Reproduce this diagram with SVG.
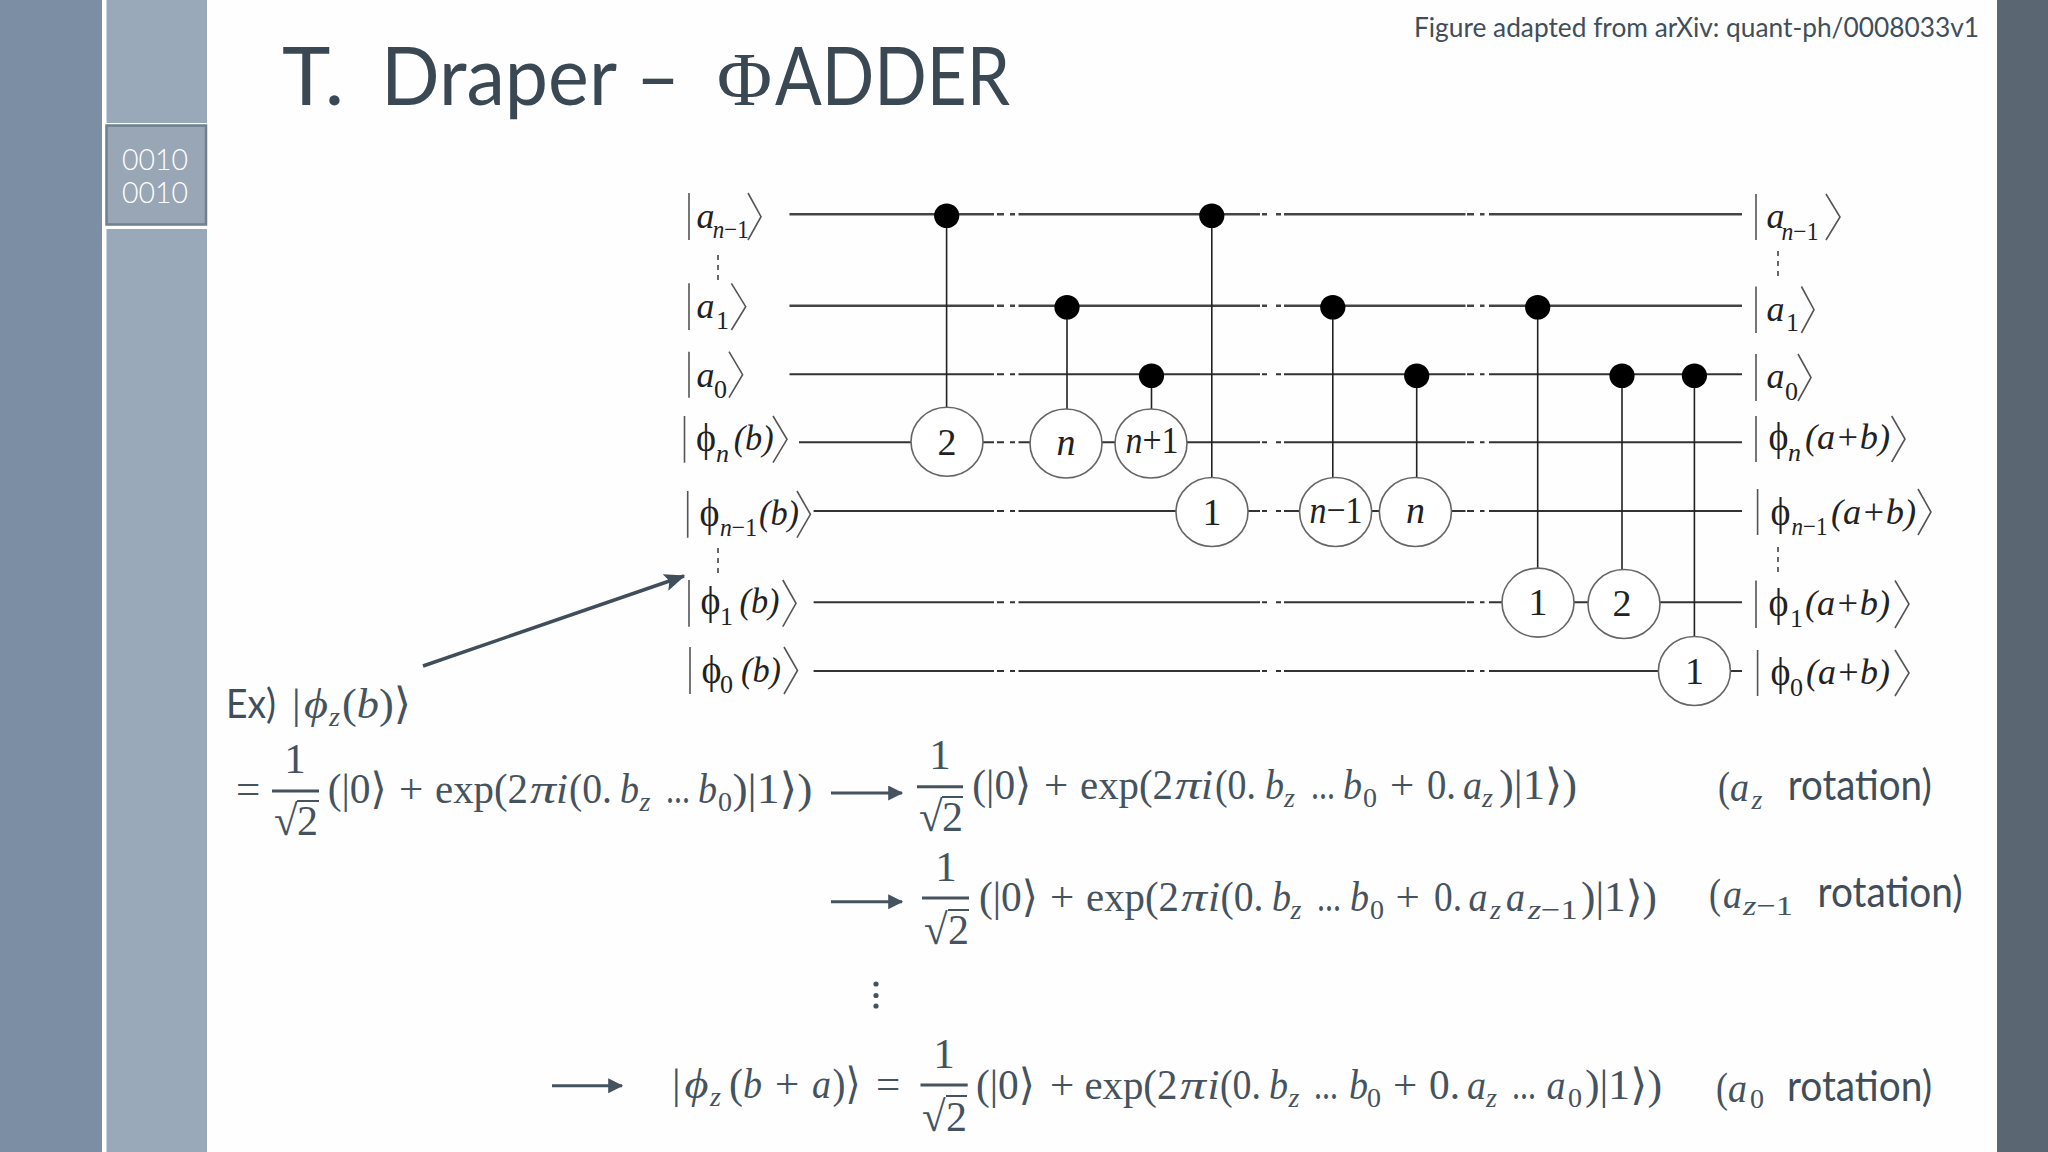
<svg xmlns="http://www.w3.org/2000/svg" width="2048" height="1152" viewBox="0 0 2048 1152">
<style>
text{white-space:pre}
.g{font-family:"Lato","Open Sans",sans-serif;font-weight:400;fill:#3f4e5a}
.m{font-family:"Liberation Serif","DejaVu Serif",serif;font-size:43px;fill:#45535f}
.i{font-style:italic}
.s{font-size:28px}
.c{font-family:"Liberation Serif","DejaVu Serif",serif;font-size:36px;fill:#222}
.cs{font-size:26px}
.p{font-size:40px}
.n{text-anchor:middle}
.w{fill:none;stroke:#333;stroke-width:2}
.wa{fill:none;stroke:#444;stroke-width:2.6}
.v{fill:none;stroke:#222;stroke-width:1.6}
.gate{fill:#fff;stroke:#666;stroke-width:1.6}
.dot{fill:#000}
.ket{fill:none;stroke:#555;stroke-width:1.6}
.dd{fill:none;stroke:#444;stroke-width:1.6;stroke-dasharray:5 5}
.ar{fill:none;stroke:#45535f;stroke-width:3}
.frac{fill:none;stroke:#45535f;stroke-width:3}
.vin{fill:none;stroke:#45535f;stroke-width:2}
</style>
<defs>
<marker id="head" markerWidth="6" markerHeight="6" refX="4.6" refY="2.5" orient="auto" markerUnits="strokeWidth"><path d="M0 0L5 2.5L0 5Z" fill="#45535f"/></marker>
<marker id="head2" markerWidth="8" markerHeight="8" refX="5.6" refY="2.5" orient="auto" markerUnits="strokeWidth"><path d="M0 0L6 2.5L0 5L1.2 2.5Z" fill="#3f4e5a"/></marker>
</defs>
<rect x="0" y="0" width="2048" height="1152" fill="#fefefe"/>
<g id="sidebar">
<rect x="0" y="0" width="102" height="1152" fill="#7b8ea3"/>
<rect x="102" y="0" width="4.500" height="1152" fill="#fff"/>
<rect x="106.500" y="0" width="100.500" height="1152" fill="#9aa9b9"/>
<rect x="106" y="123" width="101" height="106" fill="#fff"/>
<rect x="106.500" y="125.500" width="99.500" height="99" fill="#98a6b5" stroke="#6f7f8e" stroke-width="2.500"/>
<text class="g" x="122" y="170" font-size="29" textLength="66" lengthAdjust="spacingAndGlyphs" style="fill:#fff;font-weight:300">0010</text>
<text class="g" x="122" y="203" font-size="29" textLength="66" lengthAdjust="spacingAndGlyphs" style="fill:#fff;font-weight:300">0010</text>
<rect x="1997" y="0" width="51" height="1152" fill="#5a6773"/>
</g>
<g id="title">
<text class="g" y="105" font-size="82" style="fill:#3a4853"><tspan x="282" textLength="62" lengthAdjust="spacingAndGlyphs">T.</tspan><tspan x="381" textLength="236" lengthAdjust="spacingAndGlyphs">Draper</tspan><tspan x="636" textLength="44" lengthAdjust="spacingAndGlyphs">–</tspan><tspan x="717" textLength="55" lengthAdjust="spacingAndGlyphs" style="font-family:'Liberation Serif',serif;font-size:76px">Φ</tspan><tspan x="775" textLength="235" lengthAdjust="spacingAndGlyphs">ADDER</tspan></text>
<text class="g" x="1414" y="36.500" font-size="27" textLength="565" lengthAdjust="spacingAndGlyphs">Figure adapted from arXiv: quant-ph/0008033v1</text>
</g>
<g id="connectors">
<path class="wa" d="M789.500 214.300H994M997 214.300H1004M1010 214.300H1015M1018.500 214.300H1260M1262 214.300H1267M1276 214.300H1281M1284 214.300H1465.500M1467 214.300H1474M1480 214.300H1484.500M1489 214.300H1742"/>
<path class="wa" d="M789.500 305.700H994M997 305.700H1004M1010 305.700H1015M1018.500 305.700H1260M1262 305.700H1267M1276 305.700H1281M1284 305.700H1465.500M1467 305.700H1474M1480 305.700H1484.500M1489 305.700H1742"/>
<path class="w" d="M789.500 374.300H994M997 374.300H1004M1010 374.300H1015M1018.500 374.300H1260M1262 374.300H1267M1276 374.300H1281M1284 374.300H1465.500M1467 374.300H1474M1480 374.300H1484.500M1489 374.300H1742"/>
<path class="w" d="M799 442.300H994M997 442.300H1004M1010 442.300H1015M1018.500 442.300H1260M1262 442.300H1267M1276 442.300H1281M1284 442.300H1465.500M1467 442.300H1474M1480 442.300H1484.500M1489 442.300H1742"/>
<path class="w" d="M813.600 511H994M997 511H1004M1010 511H1015M1018.500 511H1260M1262 511H1267M1276 511H1281M1284 511H1465.500M1467 511H1474M1480 511H1484.500M1489 511H1742"/>
<path class="w" d="M813.600 602.300H994M997 602.300H1004M1010 602.300H1015M1018.500 602.300H1260M1262 602.300H1267M1276 602.300H1281M1284 602.300H1465.500M1467 602.300H1474M1480 602.300H1484.500M1489 602.300H1742"/>
<path class="w" d="M813.600 671H994M997 671H1004M1010 671H1015M1018.500 671H1260M1262 671H1267M1276 671H1281M1284 671H1465.500M1467 671H1474M1480 671H1484.500M1489 671H1742"/>
<path class="v" d="M946.600 214V408M1067 306V410M1151.500 374V410M1211.800 214V478M1332.800 306V478M1416.700 374V478M1537.700 306V568M1622 374V569M1694.400 374V636"/>
<path class="dd" d="M718 255V280M718 548V575M1778 251V281M1778 547V575"/>
<line id="arrow-ex" x1="423" y1="666" x2="684" y2="576" stroke="#3f4e5a" stroke-width="3.500" marker-end="url(#head2)"/>
<line id="arrow-1" class="ar" x1="831" y1="793" x2="902" y2="793" marker-end="url(#head)"/>
<line id="arrow-2" class="ar" x1="831" y1="901.700" x2="902" y2="901.700" marker-end="url(#head)"/>
<line id="arrow-3" class="ar" x1="552" y1="1085.700" x2="622" y2="1085.700" marker-end="url(#head)"/>
</g>
<g id="ctrl-1"><ellipse class="dot" cx="946.700" cy="215.800" rx="12.600" ry="12.300"/></g>
<g id="ctrl-2"><ellipse class="dot" cx="1067" cy="307.200" rx="12.600" ry="12.300"/></g>
<g id="ctrl-3"><ellipse class="dot" cx="1151.500" cy="375.800" rx="12.600" ry="12.300"/></g>
<g id="ctrl-4"><ellipse class="dot" cx="1211.800" cy="215.800" rx="12.600" ry="12.300"/></g>
<g id="ctrl-5"><ellipse class="dot" cx="1332.800" cy="307.200" rx="12.600" ry="12.300"/></g>
<g id="ctrl-6"><ellipse class="dot" cx="1416.700" cy="375.800" rx="12.600" ry="12.300"/></g>
<g id="ctrl-7"><ellipse class="dot" cx="1537.700" cy="307.200" rx="12.600" ry="12.300"/></g>
<g id="ctrl-8"><ellipse class="dot" cx="1622" cy="375.800" rx="12.600" ry="12.300"/></g>
<g id="ctrl-9"><ellipse class="dot" cx="1694.400" cy="375.800" rx="12.600" ry="12.300"/></g>
<g id="gate-1"><ellipse class="gate" cx="947" cy="441.700" rx="36" ry="34.500"/><text class="c n" x="947" y="455" style="font-size:38px">2</text></g>
<g id="gate-2"><ellipse class="gate" cx="1066" cy="443.500" rx="36" ry="34.500"/><text class="c i n" x="1066" y="455" style="font-size:38px">n</text></g>
<g id="gate-3"><ellipse class="gate" cx="1151" cy="443.500" rx="36" ry="34.500"/><text class="c n" x="1152" y="453" textLength="53" lengthAdjust="spacingAndGlyphs" style="font-size:38px"><tspan class="i">n</tspan>+1</text></g>
<g id="gate-4"><ellipse class="gate" cx="1212" cy="512" rx="36" ry="34.500"/><text class="c n" x="1212" y="525" style="font-size:38px">1</text></g>
<g id="gate-5"><ellipse class="gate" cx="1335.600" cy="512" rx="36" ry="34.500"/><text class="c n" x="1336" y="523" textLength="53" lengthAdjust="spacingAndGlyphs" style="font-size:38px"><tspan class="i">n</tspan>−1</text></g>
<g id="gate-6"><ellipse class="gate" cx="1415.400" cy="512" rx="36" ry="34.500"/><text class="c i n" x="1415.400" y="523" style="font-size:38px">n</text></g>
<g id="gate-7"><ellipse class="gate" cx="1538" cy="602.600" rx="36" ry="34.500"/><text class="c n" x="1538" y="615" style="font-size:38px">1</text></g>
<g id="gate-8"><ellipse class="gate" cx="1624" cy="604" rx="36" ry="34.500"/><text class="c n" x="1622" y="616" style="font-size:38px">2</text></g>
<g id="gate-9"><ellipse class="gate" cx="1694.400" cy="671" rx="36" ry="34.500"/><text class="c n" x="1694.400" y="684" style="font-size:38px">1</text></g>
<g id="label-in-a-n1"><path class="ket" d="M689 193V240M748 193L761 216.700L748 240"/><text class="c i" x="696.600" y="228">a</text><text class="c cs" x="712.700" y="238" textLength="36" lengthAdjust="spacingAndGlyphs"><tspan class="i">n</tspan>−1</text></g>
<g id="label-in-a-1"><path class="ket" d="M689 283.300V330M731.400 283.300L745.700 306.700L731.400 330"/><text class="c i" x="696.600" y="318">a</text><text class="c cs" x="716" y="329">1</text></g>
<g id="label-in-a-0"><path class="ket" d="M689 351.700V397.700M729 351.700L742.600 374.700L729 397.700"/><text class="c i" x="696.600" y="386.700">a</text><text class="c cs" x="714" y="397.700">0</text></g>
<g id="label-in-phi-n"><path class="ket" d="M684.500 416V462.700M773 416L787 439.300L773 462.700"/><text class="c p" x="696" y="451" textLength="20" lengthAdjust="spacingAndGlyphs">ϕ</text><text class="c cs i" x="716" y="461.700">n</text><text class="c i" x="733.700" y="450" textLength="40" lengthAdjust="spacingAndGlyphs">(b)</text></g>
<g id="label-in-phi-n1"><path class="ket" d="M687.700 491V537.700M797 491L810.400 514.300L797 537.700"/><text class="c p" x="699.500" y="526" textLength="20" lengthAdjust="spacingAndGlyphs">ϕ</text><text class="c cs" x="720" y="536" textLength="37" lengthAdjust="spacingAndGlyphs"><tspan class="i">n</tspan>−1</text><text class="c i" x="759" y="525" textLength="40" lengthAdjust="spacingAndGlyphs">(b)</text></g>
<g id="label-in-phi-1"><path class="ket" d="M689 580V626.700M782.800 580L796 603.300L782.800 626.700"/><text class="c p" x="700.500" y="614" textLength="20" lengthAdjust="spacingAndGlyphs">ϕ</text><text class="c cs" x="720" y="625">1</text><text class="c i" x="739.500" y="613" textLength="40" lengthAdjust="spacingAndGlyphs">(b)</text></g>
<g id="label-in-phi-0"><path class="ket" d="M690 647V694M784 647L797.500 670.500L784 694"/><text class="c p" x="701.500" y="682.700" textLength="20" lengthAdjust="spacingAndGlyphs">ϕ</text><text class="c cs" x="720" y="693">0</text><text class="c i" x="741" y="681.700" textLength="40" lengthAdjust="spacingAndGlyphs">(b)</text></g>
<g id="label-out-a-n1"><path class="ket" d="M1756 194V240M1826 194L1840 217L1826 240"/><text class="c i" x="1766.600" y="228">a</text><text class="c cs" x="1781.500" y="240" textLength="37" lengthAdjust="spacingAndGlyphs"><tspan class="i">n</tspan>−1</text></g>
<g id="label-out-a-1"><path class="ket" d="M1756 286.500V333M1801.400 286.500L1814 309.700L1801.400 333"/><text class="c i" x="1766.600" y="321">a</text><text class="c cs" x="1786" y="331.400">1</text></g>
<g id="label-out-a-0"><path class="ket" d="M1756 354V401M1798 354L1811 377.500L1798 401"/><text class="c i" x="1766.600" y="388">a</text><text class="c cs" x="1785" y="400">0</text></g>
<g id="label-out-phi-n"><path class="ket" d="M1756 416V462M1891.700 416L1905 439L1891.700 462"/><text class="c p" x="1768.500" y="450" textLength="20" lengthAdjust="spacingAndGlyphs">ϕ</text><text class="c cs i" x="1788" y="461">n</text><text class="c i" x="1805" y="449" textLength="85" lengthAdjust="spacingAndGlyphs">(a+b)</text></g>
<g id="label-out-phi-n1"><path class="ket" d="M1757.600 489V535M1918 489L1931 512L1918 535"/><text class="c p" x="1770.500" y="524.700" textLength="20" lengthAdjust="spacingAndGlyphs">ϕ</text><text class="c cs" x="1791.500" y="535" textLength="36" lengthAdjust="spacingAndGlyphs"><tspan class="i">n</tspan>−1</text><text class="c i" x="1831" y="523.700" textLength="85" lengthAdjust="spacingAndGlyphs">(a+b)</text></g>
<g id="label-out-phi-1"><path class="ket" d="M1756 580.500V628M1895 580.500L1909 604L1895 628"/><text class="c p" x="1768.500" y="616" textLength="20" lengthAdjust="spacingAndGlyphs">ϕ</text><text class="c cs" x="1790" y="627">1</text><text class="c i" x="1805" y="615" textLength="85" lengthAdjust="spacingAndGlyphs">(a+b)</text></g>
<g id="label-out-phi-0"><path class="ket" d="M1757.600 650V696M1895 650L1909 673L1895 696"/><text class="c p" x="1770.500" y="685" textLength="20" lengthAdjust="spacingAndGlyphs">ϕ</text><text class="c cs" x="1790" y="695.600">0</text><text class="c i" x="1806" y="684" textLength="84" lengthAdjust="spacingAndGlyphs">(a+b)</text></g>
<g id="eq-ex">
<text class="g" x="226" y="718" font-size="41" textLength="50" lengthAdjust="spacingAndGlyphs">Ex)</text>
<text class="m" y="718"><tspan x="292">|</tspan><tspan class="i" x="304" textLength="24" lengthAdjust="spacingAndGlyphs">ϕ</tspan><tspan class="s i" x="329" y="726">z</tspan><tspan x="342" y="718" textLength="69" lengthAdjust="spacingAndGlyphs">(<tspan class="i">b</tspan>)⟩</tspan></text>
</g>
<g id="eq-1">
<text class="m" y="803"><tspan x="236">=</tspan></text>
<text class="m n" x="295" y="773">1</text><line class="frac" x1="272" y1="791" x2="319" y2="791"/>
<text class="m" x="274" y="835">√</text><text class="m" x="297" y="835" textLength="21" lengthAdjust="spacingAndGlyphs">2</text><line class="vin" x1="297" y1="801" x2="319" y2="801"/>
<text class="m" y="803"><tspan x="327.700" textLength="59" lengthAdjust="spacingAndGlyphs">(|0⟩</tspan><tspan x="399">+</tspan><tspan x="435" textLength="93" lengthAdjust="spacingAndGlyphs">exp(2</tspan><tspan class="i" x="530" textLength="26" lengthAdjust="spacingAndGlyphs">π</tspan><tspan class="i" x="556">i</tspan><tspan x="569" textLength="43" lengthAdjust="spacingAndGlyphs">(0.</tspan><tspan class="i" x="620" textLength="19" lengthAdjust="spacingAndGlyphs">b</tspan><tspan class="s i" x="639.400" y="811">z</tspan><tspan x="666" y="803" textLength="24" lengthAdjust="spacingAndGlyphs">...</tspan><tspan class="i" x="698" textLength="19" lengthAdjust="spacingAndGlyphs">b</tspan><tspan class="s" x="718" y="811">0</tspan><tspan x="732.400" y="803" textLength="80" lengthAdjust="spacingAndGlyphs">)|1⟩)</tspan></text>
</g>
<g id="eq-2">
<text class="m n" x="940" y="769">1</text><line class="frac" x1="917" y1="786.700" x2="963" y2="786.700"/>
<text class="m" x="919" y="831">√</text><text class="m" x="942" y="831" textLength="21" lengthAdjust="spacingAndGlyphs">2</text><line class="vin" x1="942" y1="797" x2="963" y2="797"/>
<text class="m" y="799"><tspan x="972.300" textLength="59" lengthAdjust="spacingAndGlyphs">(|0⟩</tspan><tspan x="1044">+</tspan><tspan x="1080" textLength="93" lengthAdjust="spacingAndGlyphs">exp(2</tspan><tspan class="i" x="1175" textLength="26" lengthAdjust="spacingAndGlyphs">π</tspan><tspan class="i" x="1201">i</tspan><tspan x="1215" textLength="41" lengthAdjust="spacingAndGlyphs">(0.</tspan><tspan class="i" x="1265" textLength="19" lengthAdjust="spacingAndGlyphs">b</tspan><tspan class="s i" x="1284" y="807">z</tspan><tspan x="1311" y="799" textLength="24" lengthAdjust="spacingAndGlyphs">...</tspan><tspan class="i" x="1343" textLength="19" lengthAdjust="spacingAndGlyphs">b</tspan><tspan class="s" x="1363" y="807">0</tspan><tspan x="1390" y="799">+</tspan><tspan x="1427" textLength="29" lengthAdjust="spacingAndGlyphs">0.</tspan><tspan class="i" x="1463" textLength="19" lengthAdjust="spacingAndGlyphs">a</tspan><tspan class="s i" x="1482" y="807">z</tspan><tspan x="1499" y="799" textLength="78" lengthAdjust="spacingAndGlyphs">)|1⟩)</tspan></text>
<text class="m" y="801"><tspan x="1718" textLength="12" lengthAdjust="spacingAndGlyphs">(</tspan><tspan class="i" x="1730" textLength="19" lengthAdjust="spacingAndGlyphs">a</tspan><tspan class="s i" x="1751.600" y="809">z</tspan></text>
<text class="g" x="1787.700" y="800" font-size="43" textLength="144" lengthAdjust="spacingAndGlyphs">rotation)</text>
</g>
<g id="eq-3">
<text class="m n" x="946" y="881">1</text><line class="frac" x1="922" y1="898" x2="969" y2="898"/>
<text class="m" x="924" y="944">√</text><text class="m" x="948" y="944" textLength="21" lengthAdjust="spacingAndGlyphs">2</text><line class="vin" x1="948" y1="910" x2="969" y2="910"/>
<text class="m" y="911"><tspan x="979" textLength="59" lengthAdjust="spacingAndGlyphs">(|0⟩</tspan><tspan x="1050">+</tspan><tspan x="1086" textLength="93" lengthAdjust="spacingAndGlyphs">exp(2</tspan><tspan class="i" x="1181" textLength="26" lengthAdjust="spacingAndGlyphs">π</tspan><tspan class="i" x="1208">i</tspan><tspan x="1220.500" textLength="43" lengthAdjust="spacingAndGlyphs">(0.</tspan><tspan class="i" x="1272" textLength="19" lengthAdjust="spacingAndGlyphs">b</tspan><tspan class="s i" x="1290.600" y="919">z</tspan><tspan x="1317" y="911" textLength="24" lengthAdjust="spacingAndGlyphs">...</tspan><tspan class="i" x="1350" textLength="19" lengthAdjust="spacingAndGlyphs">b</tspan><tspan class="s" x="1370" y="919">0</tspan><tspan x="1395.600" y="911">+</tspan><tspan x="1434" textLength="28" lengthAdjust="spacingAndGlyphs">0.</tspan><tspan class="i" x="1468.500" textLength="19" lengthAdjust="spacingAndGlyphs">a</tspan><tspan class="s i" x="1490" y="919">z</tspan><tspan class="i" x="1506" y="911" textLength="19" lengthAdjust="spacingAndGlyphs">a</tspan><tspan class="s" x="1527.700" y="919" textLength="50" lengthAdjust="spacingAndGlyphs"><tspan class="i">z</tspan>−1</tspan><tspan x="1581" y="911" textLength="76" lengthAdjust="spacingAndGlyphs">)|1⟩)</tspan></text>
<text class="m" y="907.500"><tspan x="1709" textLength="12" lengthAdjust="spacingAndGlyphs">(</tspan><tspan class="i" x="1723" textLength="19" lengthAdjust="spacingAndGlyphs">a</tspan><tspan class="s" x="1743" y="915" textLength="50" lengthAdjust="spacingAndGlyphs"><tspan class="i">z</tspan>−1</tspan></text>
<text class="g" x="1817.600" y="906.700" font-size="43" textLength="145" lengthAdjust="spacingAndGlyphs">rotation)</text>
</g>
<g id="eq-dots"><circle cx="876" cy="984" r="2.600" fill="#45535f"/><circle cx="876" cy="995.500" r="2.600" fill="#45535f"/><circle cx="876" cy="1006" r="2.600" fill="#45535f"/></g>
<g id="eq-4">
<text class="m" y="1098"><tspan x="672">|</tspan><tspan class="i" x="684.500" textLength="24" lengthAdjust="spacingAndGlyphs">ϕ</tspan><tspan class="s i" x="710" y="1106">z</tspan><tspan x="729" y="1098" textLength="14" lengthAdjust="spacingAndGlyphs">(</tspan><tspan class="i" x="743" textLength="19" lengthAdjust="spacingAndGlyphs">b</tspan><tspan x="775">+</tspan><tspan class="i" x="812" textLength="19" lengthAdjust="spacingAndGlyphs">a</tspan><tspan x="832.500" textLength="28" lengthAdjust="spacingAndGlyphs">)⟩</tspan><tspan x="876">=</tspan></text>
<text class="m n" x="944" y="1068">1</text><line class="frac" x1="920.500" y1="1085" x2="967.700" y2="1085"/>
<text class="m" x="922" y="1131">√</text><text class="m" x="946" y="1131" textLength="21" lengthAdjust="spacingAndGlyphs">2</text><line class="vin" x1="946" y1="1096" x2="967" y2="1096"/>
<text class="m" y="1099"><tspan x="976" textLength="59" lengthAdjust="spacingAndGlyphs">(|0⟩</tspan><tspan x="1050">+</tspan><tspan x="1084.400" textLength="93" lengthAdjust="spacingAndGlyphs">exp(2</tspan><tspan class="i" x="1180" textLength="26" lengthAdjust="spacingAndGlyphs">π</tspan><tspan class="i" x="1207.500">i</tspan><tspan x="1220" textLength="41" lengthAdjust="spacingAndGlyphs">(0.</tspan><tspan class="i" x="1269" textLength="19" lengthAdjust="spacingAndGlyphs">b</tspan><tspan class="s i" x="1288.500" y="1107">z</tspan><tspan x="1314" y="1099" textLength="24" lengthAdjust="spacingAndGlyphs">...</tspan><tspan class="i" x="1349" textLength="19" lengthAdjust="spacingAndGlyphs">b</tspan><tspan class="s" x="1367" y="1107">0</tspan><tspan x="1393" y="1099">+</tspan><tspan x="1429" textLength="31" lengthAdjust="spacingAndGlyphs">0.</tspan><tspan class="i" x="1467" textLength="19" lengthAdjust="spacingAndGlyphs">a</tspan><tspan class="s i" x="1486" y="1107">z</tspan><tspan x="1512" y="1099" textLength="24" lengthAdjust="spacingAndGlyphs">...</tspan><tspan class="i" x="1546.500" textLength="19" lengthAdjust="spacingAndGlyphs">a</tspan><tspan class="s" x="1568" y="1107">0</tspan><tspan x="1585" y="1099" textLength="77" lengthAdjust="spacingAndGlyphs">)|1⟩)</tspan></text>
<text class="m" y="1101.500"><tspan x="1716" textLength="12" lengthAdjust="spacingAndGlyphs">(</tspan><tspan class="i" x="1728" textLength="19" lengthAdjust="spacingAndGlyphs">a</tspan><tspan class="s" x="1750" y="1108">0</tspan></text>
<text class="g" x="1787" y="1101" font-size="43" textLength="145" lengthAdjust="spacingAndGlyphs">rotation)</text>
</g>
</svg>
